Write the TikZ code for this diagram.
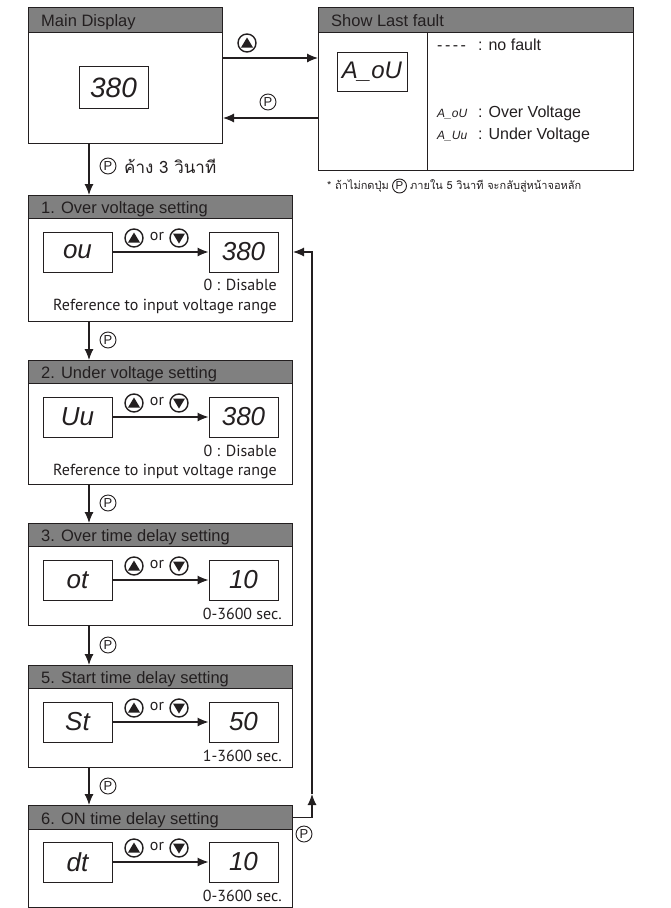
\documentclass[tikz,border=0pt]{standalone}
\usepackage{fontspec}
\setmainfont{Liberation Sans}
\newfontfamily\thaifont[Script=Thai]{Loma}
\newfontfamily\myriad{PT Sans}
\usetikzlibrary{arrows.meta,calc}
\definecolor{ink}{RGB}{35,31,32}
\definecolor{hdrgray}{RGB}{128,128,128}
\begin{document}
\begin{tikzpicture}[x=1pt,y=-1pt,
  frame/.style={draw=ink, fill=white, line width=1pt, inner sep=0pt, anchor=north west},
  hdr/.style={draw=ink, fill=hdrgray, line width=1pt, inner sep=0pt, anchor=north west},
  hdrtxt/.style={anchor=base west, inner sep=0pt, text=ink, font=\fontsize{16.5}{18}\selectfont},
  disp/.style={draw=ink, line width=1pt, minimum width=69pt, minimum height=40pt, inner sep=0pt, text=ink, font=\itshape\fontsize{26}{26}\selectfont},
  arr/.style={draw=ink, line width=1.1pt, -{Latex[length=11pt,width=9pt]}},
  pbtn/.style={circle, draw=ink, line width=0.9pt, minimum size=16pt, inner sep=0pt, text=ink, font=\fontsize{13}{13}\selectfont},
  upbtn/.style={circle, draw=ink, line width=1.4pt, minimum size=18pt, inner sep=0pt,
    path picture={\fill[ink] ([yshift=5.5pt]path picture bounding box.center) -- ++(-6pt,-10pt) -- ++(12pt,0pt) -- cycle;}},
  dnbtn/.style={circle, draw=ink, line width=1.4pt, minimum size=18pt, inner sep=0pt,
    path picture={\fill[ink] ([yshift=-5.5pt]path picture bounding box.center) -- ++(-6pt,10pt) -- ++(12pt,0pt) -- cycle;}},
  myr/.style={inner sep=0pt, text=ink, font=\myriad\fontsize{16}{18}\selectfont},
  txt/.style={inner sep=0pt, text=ink, font=\fontsize{16}{18}\selectfont},
  seg/.style={inner sep=0pt, text=ink, font=\itshape\fontsize{12}{14}\selectfont}
]
\useasboundingbox (0,0) rectangle (670,908);

% ---------- Main display ----------
\node[frame, minimum width=194pt, minimum height=136pt] (md) at (28,7) {};
\node[hdr, minimum width=194pt, minimum height=25pt] (mdh) at (28,7) {};
\node[hdrtxt] (mdt) at (41,26.5) {Main Display};
\node[disp, minimum height=42pt, font=\itshape\fontsize{28}{28}\selectfont] (mdd) at (113.5,87.5) {380};

% ---------- Show last fault ----------
\node[frame, minimum width=315pt, minimum height=163pt] (sf) at (318,7) {};
\node[hdr, minimum width=315pt, minimum height=25pt] (sfh) at (318,7) {};
\node[hdrtxt] (sft) at (331,26.5) {Show Last fault};
\coordinate (dv) at (427,0);
\draw[draw=ink, line width=1pt] (dv |- sfh.south) -- (dv |- sf.south);
\node[disp, minimum width=70pt, minimum height=39pt, font=\itshape\fontsize{24}{24}\selectfont] (sfd) at (372,71.5) {A\_oU};
\node[txt, anchor=base west] (nf0) at (437,50) {-\hspace{2.5pt}-\hspace{2.5pt}-\hspace{2.5pt}-};
\node[txt, anchor=base west] (nf1) at (478,50) {: no fault};
\node[seg, anchor=base west] (ov0) at (437,117) {A\_oU};
\node[txt, anchor=base west] (ov1) at (478,117) {: Over Voltage};
\node[seg, anchor=base west] (uv0) at (437,139) {A\_Uu};
\node[txt, anchor=base west] (uv1) at (478,139) {: Under Voltage};

% footnote
\node[inner sep=0pt, text=ink, anchor=west, font=\thaifont\fontsize{11}{13}\selectfont] (fn1) at (327,186) {* ถ้าไม่กดปุ่ม};
\node[pbtn, anchor=west, minimum size=14pt, font=\fontsize{11.5}{12}\selectfont] (fnp) at ([xshift=3pt]fn1.east) {P};
\node[inner sep=0pt, text=ink, anchor=west, font=\thaifont\fontsize{11}{13}\selectfont] (fn2) at ([xshift=3pt]fnp.east) {ภายใน 5 วินาที จะกลับสู่หน้าจอหลัก};

% arrows between main and fault
\coordinate (r1) at (222,58);
\coordinate (r2) at (222,118);
\draw[arr] (r1 -| md.east) -- (r1 -| sf.west);
\draw[arr] (r2 -| sf.west) -- (r2 -| md.east);
\node[upbtn] (tu) at (247,43) {};
\node[pbtn] (tp) at (268,102) {P};

% ---------- Setting 1 ----------
\node[frame, minimum width=264pt, minimum height=126pt] (b1) at (28,195) {};
\node[hdr, minimum width=264pt, minimum height=23pt] (b1h) at (28,195) {};
\node[hdrtxt] (b1t) at (41,213) {1. Over voltage setting};
\node[disp] (b1l) at (77.5,252) {ou};
\node[disp] (b1r) at (243.5,252) {380};
\draw[arr] (b1l) -- (b1r);
\node[upbtn] (b1u) at (134,238) {};
\node[myr] (b1o) at (157,236) {or};
\node[dnbtn] (b1d) at (179,238) {};
\node[myr, anchor=east] (b1n) at (277,285) {0 : Disable};
\node[myr] (b1f) at (165,307) {Reference to input voltage range};

% ---------- Setting 2 ----------
\node[frame, minimum width=264pt, minimum height=124pt] (b2) at (28,360) {};
\node[hdr, minimum width=264pt, minimum height=23pt] (b2h) at (28,360) {};
\node[hdrtxt] (b2t) at (41,378) {2. Under voltage setting};
\node[disp] (b2l) at (77.5,417) {Uu};
\node[disp] (b2r) at (243.5,417) {380};
\draw[arr] (b2l) -- (b2r);
\node[upbtn] (b2u) at (134,403) {};
\node[myr] (b2o) at (157,401) {or};
\node[dnbtn] (b2d) at (179,403) {};
\node[myr, anchor=east] (b2n) at (277,451) {0 : Disable};
\node[myr] (b2f) at (165,472) {Reference to input voltage range};

% ---------- Setting 3 ----------
\node[frame, minimum width=264pt, minimum height=102pt] (b3) at (28,523) {};
\node[hdr, minimum width=264pt, minimum height=23pt] (b3h) at (28,523) {};
\node[hdrtxt] (b3t) at (41,541) {3. Over time delay setting};
\node[disp] (b3l) at (77.5,580) {ot};
\node[disp] (b3r) at (243.5,580) {10};
\draw[arr] (b3l) -- (b3r);
\node[upbtn] (b3u) at (134,566) {};
\node[myr] (b3o) at (157,564) {or};
\node[dnbtn] (b3d) at (179,566) {};
\node[myr, anchor=east] (b3n) at (282,614) {0-3600 sec.};

% ---------- Setting 5 ----------
\node[frame, minimum width=264pt, minimum height=102pt] (b5) at (28,665) {};
\node[hdr, minimum width=264pt, minimum height=23pt] (b5h) at (28,665) {};
\node[hdrtxt] (b5t) at (41,683) {5. Start time delay setting};
\node[disp] (b5l) at (77.5,722) {St};
\node[disp] (b5r) at (243.5,722) {50};
\draw[arr] (b5l) -- (b5r);
\node[upbtn] (b5u) at (134,708) {};
\node[myr] (b5o) at (157,706) {or};
\node[dnbtn] (b5d) at (179,708) {};
\node[myr, anchor=east] (b5n) at (282,756) {1-3600 sec.};

% ---------- Setting 6 ----------
\node[frame, minimum width=264pt, minimum height=102pt] (b6) at (28,805) {};
\node[hdr, minimum width=264pt, minimum height=24pt] (b6h) at (28,805) {};
\node[hdrtxt] (b6t) at (41,824) {6. ON time delay setting};
\node[disp] (b6l) at (77.5,862) {dt};
\node[disp] (b6r) at (243.5,862) {10};
\draw[arr] (b6l) -- (b6r);
\node[upbtn] (b6u) at (134,848) {};
\node[myr] (b6o) at (157,846) {or};
\node[dnbtn] (b6d) at (179,848) {};
\node[myr, anchor=east] (b6n) at (282,896) {0-3600 sec.};

% ---------- vertical flow ----------
\coordinate (vx) at (89,0);
\draw[arr] (vx |- md.south) -- (vx |- b1.north);
\node[pbtn] (p0) at (108,166) {P};
\node[inner sep=0pt, text=ink, anchor=west, font=\thaifont\fontsize{17}{19}\selectfont] (p0t) at (124,166) {ค้าง 3 วินาที};

\draw[arr] (vx |- b1.south) -- (vx |- b2.north);
\node[pbtn] (p1) at (108,340) {P};
\draw[arr] (vx |- b2.south) -- (vx |- b3.north);
\node[pbtn] (p2) at (108,503) {P};
\draw[arr] (vx |- b3.south) -- (vx |- b5.north);
\node[pbtn] (p3) at (108,645) {P};
\draw[arr] (vx |- b5.south) -- (vx |- b6.north);
\node[pbtn] (p4) at (108,786) {P};

% ---------- loop back ----------
\coordinate (lpB) at (312,794);
\draw[arr] (b6h.east) -| (lpB);
\draw[arr] (lpB) |- (b1r -| b1.east);
\node[pbtn] (p5) at (304,834) {P};
\end{tikzpicture}
\end{document}
